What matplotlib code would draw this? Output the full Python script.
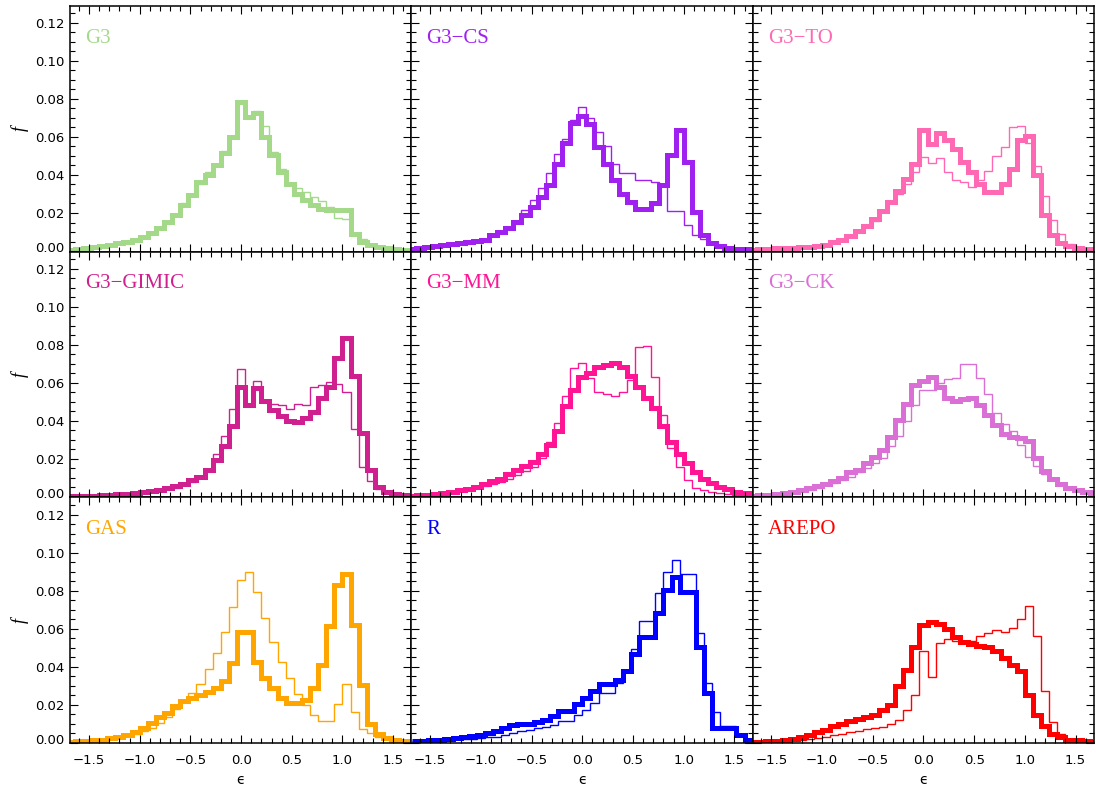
import numpy as np
import matplotlib
matplotlib.use("Agg")
import matplotlib.pyplot as plt
from matplotlib.ticker import MultipleLocator, FuncFormatter
from matplotlib.transforms import ScaledTranslation

# ---- histogram data: fraction f per bin of epsilon (bin width 0.08) ----
# most runs: bins centred on multiples of 0.08, from -1.68 to 1.68
centres_std = np.round(np.arange(-21, 22) * 0.08, 2)
# run R: bins centred half a bin off, from -1.64 to 1.64
centres_r = np.round(0.04 + np.arange(-21, 21) * 0.08, 2)

panel_names = ["G3", "G3\u2212CS", "G3\u2212TO",
               "G3\u2212GIMIC", "G3\u2212MM", "G3\u2212CK",
               "GAS", "R", "AREPO"]
panel_colors = ["#a5d98a", "#a020f0", "#ff69b4",
                "#d0208f", "#ff1493", "#da70d6",
                "#ffa500", "#0000ff", "#ff0000"]

g3_thick = [0.0007, 0.0011, 0.0016, 0.0021, 0.0026, 0.0033, 0.0040, 0.0049, 0.0060, 0.0074,
            0.0097, 0.0121, 0.0153, 0.0188, 0.0240, 0.0293, 0.0364, 0.0400, 0.0452, 0.0513,
            0.0600, 0.0786, 0.0703, 0.0724, 0.0600, 0.0504, 0.0417, 0.0355, 0.0302, 0.0267,
            0.0241, 0.0223, 0.0214, 0.0214, 0.0214, 0.0091, 0.0047, 0.0030, 0.0021, 0.0014,
            0.0010, 0.0007, 0.0005]
g3_thin = [0.0006, 0.0010, 0.0015, 0.0020, 0.0025, 0.0032, 0.0039, 0.0048, 0.0062, 0.0078,
           0.0100, 0.0125, 0.0160, 0.0195, 0.0250, 0.0300, 0.0355, 0.0415, 0.0460, 0.0525,
           0.0605, 0.0790, 0.0710, 0.0735, 0.0660, 0.0520, 0.0430, 0.0360, 0.0330, 0.0310,
           0.0285, 0.0265, 0.0230, 0.0175, 0.0170, 0.0095, 0.0065, 0.0035, 0.0022, 0.0015,
           0.0010, 0.0007, 0.0005]

cs_thick = [0.0010, 0.0014, 0.0019, 0.0025, 0.0030, 0.0037, 0.0042, 0.0046, 0.0053, 0.0060,
            0.0083, 0.0100, 0.0120, 0.0153, 0.0190, 0.0230, 0.0285, 0.0346, 0.0460, 0.0566,
            0.0675, 0.0710, 0.0668, 0.0548, 0.0460, 0.0373, 0.0302, 0.0258, 0.0223, 0.0223,
            0.0255, 0.0346, 0.0504, 0.0636, 0.0469, 0.0206, 0.0086, 0.0042, 0.0025, 0.0018,
            0.0012, 0.0009, 0.0007]
cs_thin = [0.0010, 0.0014, 0.0019, 0.0025, 0.0030, 0.0036, 0.0041, 0.0045, 0.0052, 0.0060,
           0.0080, 0.0100, 0.0123, 0.0160, 0.0214, 0.0267, 0.0330, 0.0410, 0.0510, 0.0590,
           0.0690, 0.0760, 0.0698, 0.0627, 0.0550, 0.0457, 0.0408, 0.0408, 0.0373, 0.0373,
           0.0364, 0.0355, 0.0210, 0.0210, 0.0135, 0.0083, 0.0065, 0.0039, 0.0025, 0.0017,
           0.0012, 0.0009, 0.0007]

to_thick = [0.0008, 0.0010, 0.0012, 0.0014, 0.0016, 0.0018, 0.0019, 0.0022, 0.0025, 0.0033,
            0.0047, 0.0060, 0.0077, 0.0104, 0.0132, 0.0167, 0.0210, 0.0258, 0.0316, 0.0380,
            0.0460, 0.0636, 0.0562, 0.0622, 0.0583, 0.0536, 0.0470, 0.0413, 0.0355, 0.0310,
            0.0308, 0.0355, 0.0434, 0.0583, 0.0605, 0.0399, 0.0188, 0.0083, 0.0042, 0.0025,
            0.0016, 0.0012, 0.0009]
to_thin = [0.0007, 0.0009, 0.0011, 0.0013, 0.0015, 0.0017, 0.0018, 0.0021, 0.0024, 0.0030,
           0.0043, 0.0055, 0.0072, 0.0098, 0.0125, 0.0160, 0.0205, 0.0250, 0.0300, 0.0350,
           0.0417, 0.0496, 0.0464, 0.0487, 0.0417, 0.0373, 0.0364, 0.0337, 0.0376, 0.0422,
           0.0500, 0.0548, 0.0650, 0.0657, 0.0570, 0.0448, 0.0288, 0.0162, 0.0091, 0.0039,
           0.0022, 0.0014, 0.0010]

gimic_thick = [0.0003, 0.0005, 0.0005, 0.0006, 0.0008, 0.0010, 0.0013, 0.0017, 0.0020, 0.0024,
               0.0029, 0.0036, 0.0045, 0.0055, 0.0069, 0.0087, 0.0104, 0.0141, 0.0193, 0.0266,
               0.0371, 0.0580, 0.0484, 0.0572, 0.0502, 0.0458, 0.0424, 0.0397, 0.0392, 0.0414,
               0.0444, 0.0519, 0.0580, 0.0729, 0.0833, 0.0636, 0.0336, 0.0144, 0.0053, 0.0026,
               0.0013, 0.0008, 0.0005]
gimic_thin = [0.0003, 0.0004, 0.0005, 0.0006, 0.0007, 0.0009, 0.0012, 0.0015, 0.0018, 0.0022,
              0.0027, 0.0033, 0.0040, 0.0048, 0.0060, 0.0080, 0.0097, 0.0135, 0.0228, 0.0319,
              0.0461, 0.0670, 0.0476, 0.0612, 0.0497, 0.0489, 0.0484, 0.0463, 0.0489, 0.0484,
              0.0577, 0.0589, 0.0603, 0.0594, 0.0549, 0.0357, 0.0158, 0.0083, 0.0039, 0.0022,
              0.0013, 0.0008, 0.0005]

mm_thick = [0.0005, 0.0008, 0.0010, 0.0015, 0.0020, 0.0027, 0.0036, 0.0043, 0.0053, 0.0066,
            0.0083, 0.0095, 0.0122, 0.0144, 0.0165, 0.0184, 0.0223, 0.0275, 0.0345, 0.0476,
            0.0560, 0.0633, 0.0650, 0.0682, 0.0694, 0.0703, 0.0682, 0.0638, 0.0577, 0.0519,
            0.0467, 0.0371, 0.0287, 0.0228, 0.0179, 0.0130, 0.0092, 0.0071, 0.0053, 0.0039,
            0.0027, 0.0018, 0.0013]
mm_thin = [0.0004, 0.0007, 0.0009, 0.0013, 0.0017, 0.0023, 0.0030, 0.0036, 0.0045, 0.0056,
           0.0068, 0.0078, 0.0092, 0.0113, 0.0135, 0.0158, 0.0205, 0.0290, 0.0390, 0.0528,
           0.0676, 0.0706, 0.0624, 0.0554, 0.0542, 0.0531, 0.0554, 0.0615, 0.0786, 0.0793,
           0.0633, 0.0432, 0.0257, 0.0158, 0.0088, 0.0048, 0.0036, 0.0027, 0.0019, 0.0014,
           0.0010, 0.0007, 0.0005]

ck_thick = [0.0005, 0.0008, 0.0012, 0.0015, 0.0020, 0.0027, 0.0036, 0.0046, 0.0057, 0.0069,
            0.0083, 0.0101, 0.0130, 0.0144, 0.0176, 0.0210, 0.0249, 0.0315, 0.0402, 0.0490,
            0.0589, 0.0607, 0.0630, 0.0580, 0.0519, 0.0502, 0.0514, 0.0519, 0.0484, 0.0432,
            0.0380, 0.0333, 0.0315, 0.0310, 0.0292, 0.0205, 0.0135, 0.0092, 0.0066, 0.0048,
            0.0036, 0.0027, 0.0018]
ck_thin = [0.0004, 0.0007, 0.0010, 0.0013, 0.0017, 0.0023, 0.0030, 0.0038, 0.0048, 0.0060,
           0.0072, 0.0088, 0.0106, 0.0130, 0.0153, 0.0179, 0.0205, 0.0266, 0.0319, 0.0397,
           0.0484, 0.0560, 0.0563, 0.0600, 0.0619, 0.0625, 0.0700, 0.0700, 0.0624, 0.0542,
           0.0440, 0.0383, 0.0345, 0.0275, 0.0210, 0.0161, 0.0123, 0.0088, 0.0063, 0.0046,
           0.0035, 0.0026, 0.0018]

gas_thick = [0.0005, 0.0007, 0.0009, 0.0012, 0.0017, 0.0023, 0.0030, 0.0043, 0.0057, 0.0078,
             0.0104, 0.0134, 0.0157, 0.0191, 0.0220, 0.0235, 0.0249, 0.0265, 0.0287, 0.0327,
             0.0422, 0.0580, 0.0580, 0.0427, 0.0340, 0.0287, 0.0235, 0.0209, 0.0209, 0.0226,
             0.0287, 0.0409, 0.0612, 0.0830, 0.0890, 0.0620, 0.0305, 0.0100, 0.0046, 0.0025,
             0.0015, 0.0010, 0.0006]
gas_thin = [0.0005, 0.0006, 0.0008, 0.0010, 0.0013, 0.0018, 0.0025, 0.0033, 0.0045, 0.0060,
            0.0080, 0.0105, 0.0135, 0.0175, 0.0225, 0.0262, 0.0308, 0.0387, 0.0474, 0.0584,
            0.0715, 0.0855, 0.0896, 0.0794, 0.0655, 0.0532, 0.0427, 0.0340, 0.0258, 0.0196,
            0.0147, 0.0116, 0.0116, 0.0203, 0.0308, 0.0160, 0.0074, 0.0050, 0.0030, 0.0020,
            0.0012, 0.0008, 0.0005]

r_thick = [0.0008, 0.0010, 0.0013, 0.0016, 0.0020, 0.0025, 0.0030, 0.0037, 0.0043, 0.0050,
           0.0060, 0.0078, 0.0092, 0.0097, 0.0100, 0.0107, 0.0122, 0.0139, 0.0165, 0.0165,
           0.0205, 0.0235, 0.0270, 0.0310, 0.0310, 0.0331, 0.0378, 0.0466, 0.0558, 0.0558,
           0.0680, 0.0803, 0.0870, 0.0794, 0.0794, 0.0502, 0.0260, 0.0078, 0.0078, 0.0075,
           0.0043, 0.0017]
r_thin = [0.0008, 0.0010, 0.0012, 0.0014, 0.0016, 0.0018, 0.0020, 0.0022, 0.0025, 0.0028,
          0.0030, 0.0042, 0.0050, 0.0060, 0.0065, 0.0075, 0.0085, 0.0095, 0.0112, 0.0112,
          0.0147, 0.0174, 0.0210, 0.0261, 0.0261, 0.0314, 0.0370, 0.0492, 0.0640, 0.0640,
          0.0786, 0.0899, 0.0960, 0.0885, 0.0885, 0.0576, 0.0314, 0.0160, 0.0087, 0.0087,
          0.0040, 0.0018]

arepo_thick = [0.0004, 0.0006, 0.0008, 0.0010, 0.0013, 0.0020, 0.0029, 0.0039, 0.0055, 0.0069,
               0.0086, 0.0099, 0.0116, 0.0127, 0.0134, 0.0148, 0.0174, 0.0200, 0.0296, 0.0383,
               0.0502, 0.0619, 0.0637, 0.0625, 0.0597, 0.0555, 0.0530, 0.0520, 0.0509, 0.0502,
               0.0480, 0.0445, 0.0410, 0.0375, 0.0252, 0.0147, 0.0086, 0.0046, 0.0029, 0.0017,
               0.0012, 0.0008, 0.0006]
arepo_thin = [0.0003, 0.0005, 0.0007, 0.0009, 0.0011, 0.0013, 0.0016, 0.0020, 0.0025, 0.0030,
              0.0039, 0.0046, 0.0055, 0.0064, 0.0072, 0.0078, 0.0083, 0.0099, 0.0121, 0.0170,
              0.0252, 0.0480, 0.0348, 0.0523, 0.0545, 0.0535, 0.0530, 0.0535, 0.0562, 0.0579,
              0.0593, 0.0584, 0.0605, 0.0651, 0.0721, 0.0563, 0.0270, 0.0107, 0.0046, 0.0017,
              0.0010, 0.0007, 0.0005]

thick_series = [g3_thick, cs_thick, to_thick, gimic_thick, mm_thick, ck_thick,
                gas_thick, r_thick, arepo_thick]
thin_series = [g3_thin, cs_thin, to_thin, gimic_thin, mm_thin, ck_thin,
               gas_thin, r_thin, arepo_thin]
panel_centres = [centres_std] * 7 + [centres_r] + [centres_std]

x_ticks_major = 0.5
y_ticks_major = 0.02


def edges_from_centres(c, width=0.08):
    c = np.asarray(c, dtype=float)
    return np.append(c - width / 2, c[-1] + width / 2)


def fmt_x(v, pos):
    if abs(v) < 1e-9:
        v = 0.0
    return f"{v:.1f}".replace("-", "\u2212")


def fmt_y(v, pos):
    if abs(v) < 1e-9:
        v = 0.0
    return f"{v:.2f}"


plt.rcParams["font.family"] = ["DejaVu Sans"]

fig = plt.figure(figsize=(10.96, 7.86), dpi=100)
axes = fig.subplots(3, 3, sharex=True, sharey=True,
                    gridspec_kw=dict(wspace=0, hspace=0))
fig.subplots_adjust(left=0.0641, right=0.998, bottom=0.0543, top=0.9927)

for i, ax in enumerate(axes.flat):
    col = panel_colors[i]
    edges = edges_from_centres(panel_centres[i])
    thick = ax.stairs(thick_series[i], edges, baseline=None, color=col, linewidth=3.6)
    thin = ax.stairs(thin_series[i], edges, baseline=None, color=col, linewidth=1.0)
    for p in (thick, thin):
        p.set_joinstyle("miter")
        p.set_capstyle("butt")

    ax.text(0.044, 0.85, panel_names[i], transform=ax.transAxes, color=col,
            fontsize=15, family="Liberation Serif", va="baseline", ha="left")

    ax.set_xlim(-1.685, 1.68)
    ax.set_ylim(-0.0003, 0.129)
    ax.xaxis.set_major_locator(MultipleLocator(x_ticks_major))
    ax.xaxis.set_minor_locator(MultipleLocator(0.1))
    ax.yaxis.set_major_locator(MultipleLocator(y_ticks_major))
    ax.yaxis.set_minor_locator(MultipleLocator(0.005))
    ax.xaxis.set_major_formatter(FuncFormatter(fmt_x))
    ax.yaxis.set_major_formatter(FuncFormatter(fmt_y))
    ax.tick_params(which="both", direction="in", top=True, right=True,
                   width=0.8, color="black", labelsize=9.5)
    ax.tick_params(which="major", length=6)
    ax.tick_params(which="minor", length=3.3)
    ax.tick_params(axis="x", which="major", pad=8)
    ax.tick_params(axis="y", which="major", pad=4)
    for s in ax.spines.values():
        s.set_linewidth(1.1)

    r, c = divmod(i, 3)
    if c == 0:
        ax.set_ylabel("f", fontsize=13, style="italic", family="Liberation Serif")
        ax.yaxis.set_label_coords(-0.121, 0.5)
    if r == 2:
        ax.set_xlabel("\u03f5", fontsize=10, family="DejaVu Sans")
        ax.xaxis.set_label_coords(0.5, -0.122)

# lift the lowest y tick label a little above the panel edge
fig.canvas.draw()
lift = ScaledTranslation(0, 3 / 72, fig.dpi_scale_trans)
for ax in axes[:, 0]:
    for tick in ax.yaxis.get_major_ticks():
        if tick.label1.get_text() == "0.00":
            tick.label1.set_transform(tick.label1.get_transform() + lift)

fig.savefig("out.png", dpi=100)
